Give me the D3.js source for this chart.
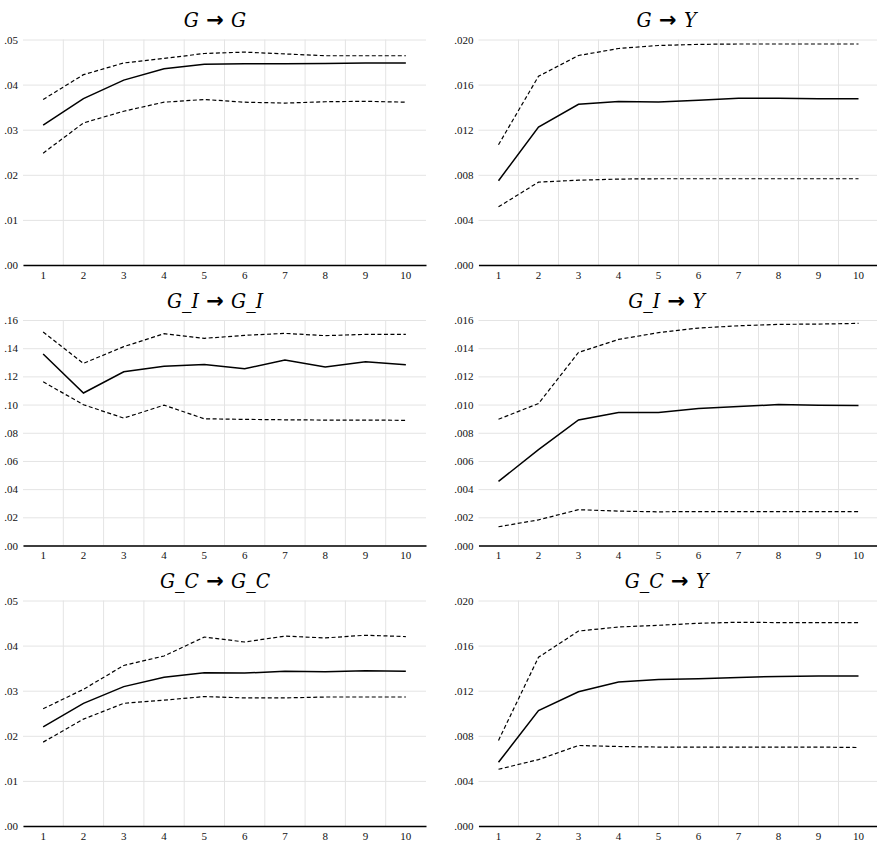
<!DOCTYPE html>
<html>
<head>
<meta charset="utf-8">
<script src="https://cdn.jsdelivr.net/npm/d3@7"></script>
<style>
  body { margin: 0; background: #fff; }
</style>
</head>
<body>
<div id="chart"></div>
<script>
// periods after the shock
const periods = ["1", "2", "3", "4", "5", "6", "7", "8", "9", "10"];

// impulse -> response names
const shocks = ["G", "G", "G_I", "G_I", "G_C", "G_C"];
const responses = ["G", "Y", "G_I", "Y", "G_C", "Y"];

// y axis top and tick step per panel
const yMax = [0.05, 0.02, 0.16, 0.016, 0.05, 0.02];
const yStep = [0.01, 0.004, 0.02, 0.002, 0.01, 0.004];

// G -> G
const ggMid = [0.0310, 0.0369, 0.0410, 0.0435, 0.0445, 0.0446, 0.0446, 0.0447, 0.0448, 0.0448];
const ggUp = [0.0367, 0.0422, 0.0448, 0.0458, 0.0469, 0.0472, 0.0468, 0.0464, 0.0464, 0.0464];
const ggLo = [0.0248, 0.0315, 0.0341, 0.0361, 0.0367, 0.0361, 0.0359, 0.0362, 0.0363, 0.0361];

// G -> Y
const gyMid = [0.00747, 0.01224, 0.01425, 0.01449, 0.01446, 0.01461, 0.01478, 0.01478, 0.01475, 0.01475];
const gyUp = [0.01067, 0.01674, 0.01858, 0.0192, 0.01947, 0.01957, 0.01960, 0.01960, 0.01960, 0.01960];
const gyLo = [0.00516, 0.00735, 0.00752, 0.00762, 0.00765, 0.00765, 0.00765, 0.00765, 0.00765, 0.00765];

// G_I -> G_I
const giMid = [0.1359, 0.1082, 0.1233, 0.1271, 0.1285, 0.1254, 0.1316, 0.1266, 0.1304, 0.1283];
const giUp = [0.1515, 0.1292, 0.1411, 0.1503, 0.1470, 0.1491, 0.1505, 0.1489, 0.1498, 0.1498];
const giLo = [0.1162, 0.0999, 0.0904, 0.0996, 0.0899, 0.0895, 0.0892, 0.0890, 0.0890, 0.0888];

// G_I -> Y
const giyMid = [0.00455, 0.0068, 0.00891, 0.00943, 0.00943, 0.00972, 0.00986, 0.0100, 0.00995, 0.00993];
const giyUp = [0.00896, 0.01007, 0.0137, 0.01462, 0.0151, 0.01543, 0.01559, 0.01569, 0.01571, 0.01576];
const giyLo = [0.00133, 0.00182, 0.00254, 0.00244, 0.00239, 0.00241, 0.00241, 0.00241, 0.00241, 0.00241];

// G_C -> G_C
const gcMid = [0.0220, 0.0272, 0.0309, 0.0330, 0.0340, 0.0339, 0.0343, 0.0342, 0.0344, 0.0343];
const gcUp = [0.0260, 0.0303, 0.0356, 0.0377, 0.0419, 0.0408, 0.0421, 0.0417, 0.0423, 0.0420];
const gcLo = [0.0186, 0.0237, 0.0272, 0.0279, 0.0287, 0.0284, 0.0284, 0.0286, 0.0286, 0.0286];

// G_C -> Y
const gcyMid = [0.00565, 0.01024, 0.0119, 0.01277, 0.0130, 0.01307, 0.01318, 0.01327, 0.0133, 0.0133];
const gcyUp = [0.00759, 0.01497, 0.01729, 0.01765, 0.0178, 0.01798, 0.01807, 0.01804, 0.01804, 0.01804];
const gcyLo = [0.00503, 0.00589, 0.00714, 0.00705, 0.0070, 0.0070, 0.0070, 0.0070, 0.0070, 0.00696];

const panels = [
  [ggMid, ggUp, ggLo], [gyMid, gyUp, gyLo],
  [giMid, giUp, giLo], [giyMid, giyUp, giyLo],
  [gcMid, gcUp, gcLo], [gcyMid, gcyUp, gcyLo]
];

const width = 877, height = 846;
const colX = [[23, 426], [478.5, 878.5]];
const titleX = [215, 666.5];
const rowOff = [0, 280.5, 561];
const tickFont = "'Liberation Serif', 'Times New Roman', serif";
const titleFont = "'DejaVu Serif Condensed', 'DejaVu Serif', serif";

const svg = d3.select("#chart").append("svg")
  .attr("width", width)
  .attr("height", height);

panels.forEach((series, i) => {
  let col = i % 2, row = Math.floor(i / 2);
  let off = rowOff[row];
  let [x0, x1] = colX[col];
  let top = 39.5 + off, bottom = 265 + off;

  let x = d3.scaleBand().domain(periods).range([x0, x1]);
  let y = d3.scaleLinear().domain([0, yMax[i]]).range([bottom, top]);

  let ticks = d3.range(0, Math.round(yMax[i] / yStep[i]) + 1).map(k => k * yStep[i]);
  let digits = col === 0 ? 2 : 3;
  let fmt = v => d3.format("." + digits + "f")(v).replace(/^0/, "");

  let g = svg.append("g");

  // horizontal grid + y labels
  let yAxis = g.append("g")
    .attr("transform", `translate(${x0},0)`)
    .call(d3.axisLeft(y).tickValues(ticks).tickFormat(fmt).tickSize(-(x1 - x0)).tickPadding(5))
    .attr("font-family", tickFont)
    .attr("font-size", 11);
  yAxis.select(".domain").remove();
  yAxis.selectAll(".tick line").attr("stroke", "#e4e4e4");
  yAxis.selectAll(".tick text").attr("fill", "#111");

  // vertical grid between periods
  g.append("g").selectAll("line")
    .data(periods.slice(1))
    .join("line")
    .attr("x1", d => x(d))
    .attr("x2", d => x(d))
    .attr("y1", top)
    .attr("y2", bottom)
    .attr("stroke", "#e4e4e4");

  // x axis
  let xAxis = g.append("g")
    .attr("transform", `translate(0,${bottom})`)
    .call(d3.axisBottom(x).tickSize(0).tickPadding(6))
    .attr("font-family", tickFont)
    .attr("font-size", 11);
  xAxis.select(".domain").attr("stroke", "#000").attr("stroke-width", 1.6);
  xAxis.selectAll(".tick text").attr("fill", "#111");

  let line = d3.line()
    .x((d, k) => x(periods[k]) + x.bandwidth() / 2)
    .y(d => y(d));

  // bands dashed, response solid
  [series[1], series[2]].forEach(s => {
    g.append("path")
      .attr("d", line(s))
      .attr("fill", "none")
      .attr("stroke", "#000")
      .attr("stroke-width", 1.2)
      .attr("stroke-dasharray", "4,2.5");
  });
  g.append("path")
    .attr("d", line(series[0]))
    .attr("fill", "none")
    .attr("stroke", "#000")
    .attr("stroke-width", 1.5);

  let t = svg.append("text")
    .attr("x", titleX[col])
    .attr("y", 27 + off)
    .attr("text-anchor", "middle")
    .attr("font-family", titleFont)
    .attr("font-size", 21)
    .attr("fill", "#000");
  t.append("tspan").attr("font-style", "italic").text(shocks[i]);
  t.append("tspan").attr("font-weight", "bold").attr("font-family", "'DejaVu Sans', sans-serif").text(" → ");
  t.append("tspan").attr("font-style", "italic").text(responses[i]);
});
</script>
</body>
</html>
